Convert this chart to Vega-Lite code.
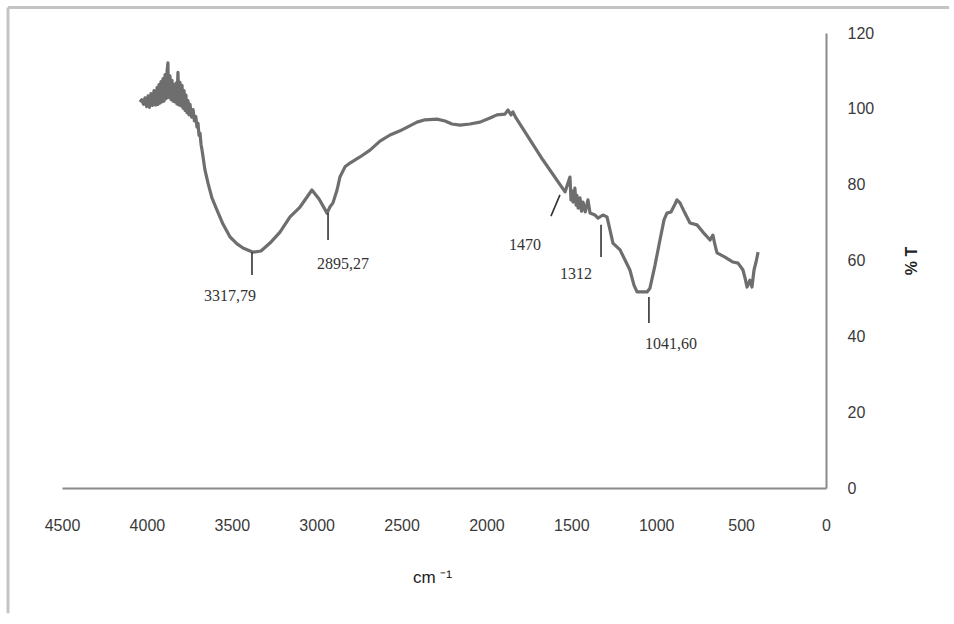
{
  "$schema": "https://vega.github.io/schema/vega-lite/v6.json",
  "width": 764,
  "height": 455,
  "autosize": {"type": "none"},
  "padding": {"left": 62, "top": 33, "right": 128, "bottom": 136},
  "background": "#ffffff",
  "config": {"view": {"stroke": null}},
  "datasets": {
    "spectrum": [
      {"wn": 4041, "t": 101.8}, {"wn": 4030, "t": 102.4}, {"wn": 4020, "t": 101.2}, {"wn": 4011, "t": 102.9},
      {"wn": 4002, "t": 100.6}, {"wn": 3993, "t": 103.4}, {"wn": 3985, "t": 100.4}, {"wn": 3976, "t": 104.0},
      {"wn": 3967, "t": 100.9}, {"wn": 3958, "t": 104.8}, {"wn": 3949, "t": 101.0}, {"wn": 3940, "t": 105.6},
      {"wn": 3934, "t": 101.2}, {"wn": 3929, "t": 106.4}, {"wn": 3923, "t": 101.5}, {"wn": 3917, "t": 107.2},
      {"wn": 3911, "t": 101.8}, {"wn": 3905, "t": 108.0}, {"wn": 3899, "t": 102.0}, {"wn": 3893, "t": 109.0},
      {"wn": 3887, "t": 102.7}, {"wn": 3881, "t": 110.0}, {"wn": 3876, "t": 112.1}, {"wn": 3873, "t": 103.0},
      {"wn": 3864, "t": 108.7}, {"wn": 3858, "t": 102.5}, {"wn": 3852, "t": 107.5}, {"wn": 3846, "t": 102.0},
      {"wn": 3840, "t": 106.3}, {"wn": 3834, "t": 101.8}, {"wn": 3829, "t": 106.8}, {"wn": 3823, "t": 101.3},
      {"wn": 3817, "t": 109.6}, {"wn": 3811, "t": 101.0}, {"wn": 3805, "t": 107.0}, {"wn": 3799, "t": 100.8},
      {"wn": 3793, "t": 106.2}, {"wn": 3787, "t": 100.2}, {"wn": 3781, "t": 104.8}, {"wn": 3775, "t": 99.6},
      {"wn": 3770, "t": 103.6}, {"wn": 3764, "t": 99.0}, {"wn": 3758, "t": 102.2}, {"wn": 3752, "t": 98.4},
      {"wn": 3746, "t": 101.2}, {"wn": 3737, "t": 97.8}, {"wn": 3728, "t": 99.8}, {"wn": 3720, "t": 96.8},
      {"wn": 3712, "t": 98.0}, {"wn": 3705, "t": 95.2}, {"wn": 3699, "t": 96.2}, {"wn": 3693, "t": 93.0},
      {"wn": 3687, "t": 93.6}, {"wn": 3681, "t": 90.6},
      {"wn": 3675, "t": 89.1}, {"wn": 3658, "t": 83.9}, {"wn": 3640, "t": 80.4}, {"wn": 3617, "t": 76.5},
      {"wn": 3587, "t": 73.3}, {"wn": 3552, "t": 69.6}, {"wn": 3510, "t": 66.2}, {"wn": 3469, "t": 64.4},
      {"wn": 3434, "t": 63.3}, {"wn": 3375, "t": 62.2}, {"wn": 3328, "t": 62.5}, {"wn": 3275, "t": 64.6},
      {"wn": 3216, "t": 67.5}, {"wn": 3157, "t": 71.5}, {"wn": 3098, "t": 74.1}, {"wn": 3028, "t": 78.6},
      {"wn": 2986, "t": 76.2}, {"wn": 2963, "t": 74.4}, {"wn": 2939, "t": 72.5}, {"wn": 2922, "t": 74.1},
      {"wn": 2904, "t": 75.2}, {"wn": 2880, "t": 78.6}, {"wn": 2863, "t": 82.0}, {"wn": 2833, "t": 84.7},
      {"wn": 2804, "t": 85.7}, {"wn": 2745, "t": 87.3}, {"wn": 2686, "t": 89.1}, {"wn": 2627, "t": 91.5},
      {"wn": 2568, "t": 93.1}, {"wn": 2509, "t": 94.2}, {"wn": 2409, "t": 96.5}, {"wn": 2362, "t": 97.1},
      {"wn": 2291, "t": 97.3}, {"wn": 2244, "t": 96.8}, {"wn": 2203, "t": 96.0}, {"wn": 2156, "t": 95.7},
      {"wn": 2097, "t": 96.0}, {"wn": 2038, "t": 96.5}, {"wn": 1979, "t": 97.6}, {"wn": 1938, "t": 98.4},
      {"wn": 1891, "t": 98.6}, {"wn": 1873, "t": 99.7}, {"wn": 1855, "t": 98.4}, {"wn": 1844, "t": 99.2},
      {"wn": 1826, "t": 97.6}, {"wn": 1667, "t": 86.5}, {"wn": 1537, "t": 78.1}, {"wn": 1508, "t": 82.0},
      {"wn": 1502, "t": 76.0}, {"wn": 1496, "t": 78.4}, {"wn": 1490, "t": 75.4}, {"wn": 1479, "t": 79.1},
      {"wn": 1472, "t": 74.6}, {"wn": 1467, "t": 77.2}, {"wn": 1460, "t": 73.8}, {"wn": 1449, "t": 76.5},
      {"wn": 1440, "t": 73.0}, {"wn": 1431, "t": 75.4}, {"wn": 1418, "t": 72.8}, {"wn": 1402, "t": 76.0},
      {"wn": 1390, "t": 72.5}, {"wn": 1361, "t": 72.0},
      {"wn": 1343, "t": 71.2}, {"wn": 1314, "t": 72.0}, {"wn": 1290, "t": 71.5}, {"wn": 1272, "t": 68.0},
      {"wn": 1255, "t": 64.6}, {"wn": 1213, "t": 62.8}, {"wn": 1178, "t": 59.6}, {"wn": 1155, "t": 57.5},
      {"wn": 1131, "t": 53.5}, {"wn": 1113, "t": 51.7}, {"wn": 1054, "t": 51.7}, {"wn": 1037, "t": 52.7},
      {"wn": 1007, "t": 58.8}, {"wn": 978, "t": 65.4}, {"wn": 954, "t": 70.7}, {"wn": 937, "t": 72.5},
      {"wn": 913, "t": 72.8}, {"wn": 889, "t": 74.9}, {"wn": 878, "t": 76.0}, {"wn": 860, "t": 75.2},
      {"wn": 831, "t": 72.5}, {"wn": 801, "t": 69.9}, {"wn": 760, "t": 69.4}, {"wn": 725, "t": 67.5},
      {"wn": 683, "t": 65.4}, {"wn": 666, "t": 66.7}, {"wn": 654, "t": 64.1}, {"wn": 642, "t": 62.0},
      {"wn": 595, "t": 60.9}, {"wn": 548, "t": 59.6}, {"wn": 518, "t": 59.3}, {"wn": 489, "t": 57.5},
      {"wn": 477, "t": 55.4}, {"wn": 465, "t": 53.0}, {"wn": 448, "t": 54.8}, {"wn": 436, "t": 53.0},
      {"wn": 424, "t": 57.5}, {"wn": 412, "t": 59.6}, {"wn": 400, "t": 62.2}
    ],
    "ticks": [
      {"wn": 3381, "wn2": 3381, "t1": 62.2, "t2": 56.2},
      {"wn": 2933, "wn2": 2933, "t1": 72.5, "t2": 65.4},
      {"wn": 1567, "wn2": 1620, "t1": 77.3, "t2": 71.7},
      {"wn": 1325, "wn2": 1325, "t1": 69.4, "t2": 60.9},
      {"wn": 1043, "wn2": 1043, "t1": 50.4, "t2": 43.5}
    ],
    "labels": [
      {"label": "3317,79", "wn": 3510, "t": 50.6},
      {"label": "2895,27", "wn": 2845, "t": 59.1},
      {"label": "1470", "wn": 1773, "t": 64.1},
      {"label": "1312", "wn": 1473, "t": 56.4},
      {"label": "1041,60", "wn": 913, "t": 38.0}
    ],
    "frame": [
      {"wn": 4818, "wn2": -725, "t": 126.7, "t2": 126.7},
      {"wn": 4818, "wn2": 4818, "t": 126.7, "t2": -33}
    ]
  },
  "layer": [
    {
      "data": {"name": "frame"},
      "mark": {"type": "rule", "color": "#c4c4c4", "strokeWidth": 3, "clip": false},
      "encoding": {
        "x": {"field": "wn", "type": "quantitative"},
        "x2": {"field": "wn2"},
        "y": {"field": "t", "type": "quantitative"},
        "y2": {"field": "t2"}
      }
    },
    {
      "data": {"name": "spectrum"},
      "mark": {"type": "line", "color": "#6e6e6e", "strokeWidth": 3.2, "strokeJoin": "round"},
      "encoding": {
        "x": {
          "field": "wn", "type": "quantitative",
          "scale": {"domain": [0, 4500], "reverse": true, "nice": false, "zero": false},
          "axis": {
            "values": [0, 500, 1000, 1500, 2000, 2500, 3000, 3500, 4000, 4500],
            "format": "d",
            "orient": "bottom", "grid": false, "ticks": false,
            "domainColor": "#8a8a8a", "domainWidth": 2,
            "labelFont": "Liberation Sans", "labelFontSize": 16, "labelColor": "#3a3a3a",
            "labelPadding": 29, "labelFlush": false, "labelOverlap": false,
            "title": "cm ⁻¹", "titleFont": "Liberation Sans", "titleFontSize": 17,
            "titleFontWeight": "normal", "titleColor": "#222222", "titlePadding": 36, "titleX": 370
          }
        },
        "y": {
          "field": "t", "type": "quantitative",
          "scale": {"domain": [0, 120], "nice": false, "zero": false},
          "axis": {
            "values": [0, 20, 40, 60, 80, 100, 120],
            "format": "d",
            "orient": "right", "grid": false, "ticks": false,
            "domainColor": "#8a8a8a", "domainWidth": 2,
            "labelFont": "Liberation Sans", "labelFontSize": 16, "labelColor": "#3a3a3a",
            "labelPadding": 21, "labelFlush": false, "labelOverlap": false,
            "title": "% T", "titleAngle": 270, "titleFont": "Liberation Sans", "titleFontSize": 16,
            "titleFontWeight": "bold", "titleColor": "#222222", "titlePadding": 46
          }
        }
      }
    },
    {
      "data": {"name": "ticks"},
      "mark": {"type": "rule", "color": "#333333", "strokeWidth": 1.6},
      "encoding": {
        "x": {"field": "wn", "type": "quantitative"},
        "x2": {"field": "wn2"},
        "y": {"field": "t1", "type": "quantitative"},
        "y2": {"field": "t2"}
      }
    },
    {
      "data": {"name": "labels"},
      "mark": {"type": "text", "font": "Liberation Serif", "fontSize": 16, "color": "#333333", "baseline": "middle", "align": "center"},
      "encoding": {
        "x": {"field": "wn", "type": "quantitative"},
        "y": {"field": "t", "type": "quantitative"},
        "text": {"field": "label"}
      }
    }
  ]
}
